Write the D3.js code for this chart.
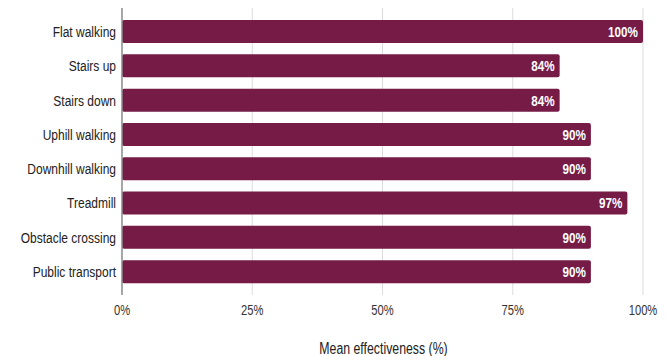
<!DOCTYPE html>
<html><head><meta charset="utf-8">
<script src="https://cdn.jsdelivr.net/npm/d3@7"></script>
<style>
body{margin:0;background:#fff;}
svg{display:block;}
text{font-family:"Liberation Sans",Arial,sans-serif;}
.cat{font-size:15px;fill:#222;}
.tick{font-size:14px;fill:#333;}
.val{font-weight:bold;font-size:15px;fill:#fff;}
.title{font-size:16px;fill:#222;}
</style></head>
<body><svg id="c" width="670" height="356"></svg>
<script>
const categories = ["Flat walking","Stairs up","Stairs down","Uphill walking","Downhill walking","Treadmill","Obstacle crossing","Public transport"];
const values = [100,84,84,90,90,97,90,90];
const ticks = [0,25,50,75,100];
const axisTitle = "Mean effectiveness (%)";

const svg = d3.select("#c");
const x = d3.scaleLinear().domain([0,100]).range([122,643]);
const y = d3.scaleBand().domain(categories).range([14.4,288.8]).paddingInner(0.33).paddingOuter(0.165);

function ntext(sel, cls, fx, fy, anchor, ft, sx){
  const g = sel.attr("transform",(d,i)=>`translate(${fx(d,i)},${fy(d,i)}) scale(${sx},1)`);
  g.append("text").attr("class",cls).attr("text-anchor",anchor).attr("dy","0.36em").text(ft);
  return g;
}

// grid
svg.append("g").selectAll("line").data(ticks.filter(t=>t>0)).join("line")
  .attr("x1",d=>x(d)).attr("x2",d=>x(d)).attr("y1",8).attr("y2",295)
  .attr("stroke","#dcdcdc").attr("stroke-width",1);

// bars
svg.append("g").selectAll("rect").data(categories).join("rect")
  .attr("x",x(0)).attr("y",d=>y(d))
  .attr("width",(d,i)=>x(values[i])-x(0)).attr("height",y.bandwidth())
  .attr("rx",2).attr("fill","#761b45");

// zero axis line
svg.append("line").attr("x1",x(0)).attr("x2",x(0)).attr("y1",8).attr("y2",295)
  .attr("stroke","#8a8a8a").attr("stroke-width",1.5);

// value labels
ntext(svg.append("g").selectAll("g").data(categories).join("g"), "val",
  (d,i)=>x(values[i])-5, d=>y(d)+y.bandwidth()/2, "end", (d,i)=>values[i]+"%", 0.78);

// category labels
ntext(svg.append("g").selectAll("g").data(categories).join("g"), "cat",
  ()=>x(0)-6, d=>y(d)+y.bandwidth()/2, "end", d=>d, 0.8);

// x tick labels
ntext(svg.append("g").selectAll("g").data(ticks).join("g"), "tick",
  d=>x(d), ()=>310, "middle", d=>d+"%", 0.8);

ntext(svg.append("g").selectAll("g").data([axisTitle]).join("g"), "title",
  ()=>x(50)+1, ()=>348, "middle", d=>d, 0.77);
</script></body></html>
